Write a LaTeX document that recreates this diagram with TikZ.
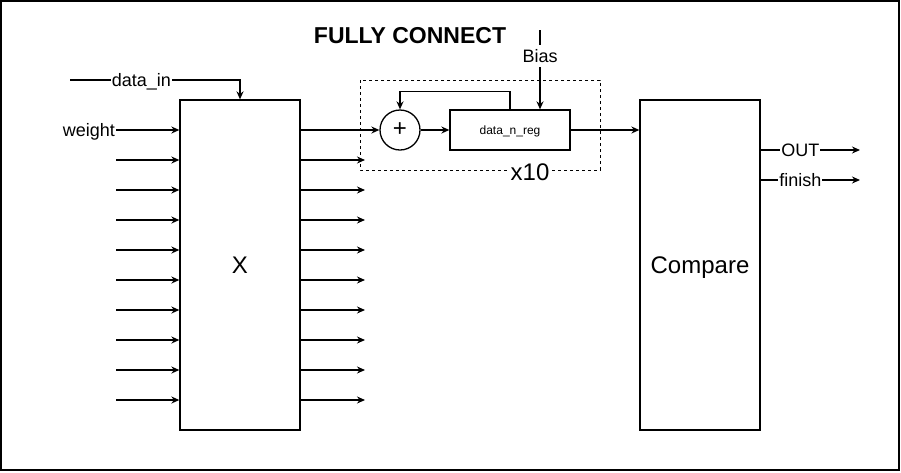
\documentclass[tikz,border=0pt]{standalone}
\usepackage{fontspec}
\setmainfont{Liberation Sans}
\usepackage{tikz}
\usetikzlibrary{arrows.meta}
\tikzset{block/.style={draw, line width=1.3, minimum width=120, minimum height=330, inner sep=0},
 txt/.style={text height=0.9*#1, text depth=0.2*#1},
 lbl/.style={fill=white, inner sep=1, font=\fontsize{18}{20}\selectfont, txt=18},
 wire/.style={line width=1.3, ->},
 >={Stealth[length=8, width=7]},
 }

\begin{document}
\begin{tikzpicture}[x=1pt, y=-1pt]
        \useasboundingbox (0, 0) rectangle (901, 472);
        \draw[line width=1.5] (1, 1) rectangle (899, 470);
        \node[font=\bfseries\fontsize{23}{26}\selectfont, txt=23] (title) at (410, 35) {FULLY CONNECT};

        \node[block, font=\fontsize{24}{28}\selectfont, txt=24] (mul) at (240, 265) {X};
        \node[block, font=\fontsize{24}{28}\selectfont, txt=24] (cmp) at (700, 265) {Compare};
        \node[draw, circle, line width=1.3, minimum size=40, inner sep=0, font=\fontsize{24}{26}\selectfont] (add) at (400, 130) {+};
        \node[draw, line width=1.3, minimum width=120, minimum height=40, font=\fontsize{12}{14}\selectfont, txt=12] (reg) at (510, 130) {data\_n\_reg};
        \draw[dashed, line width=1] (360, 80) rectangle (600, 170);
        \node[lbl, font=\fontsize{24}{26}\selectfont, txt=24] (rep) at (530, 172) {x10};

        % inputs of X
        \node[lbl, anchor=east] (wt) at (116, 130) {weight};
        \draw[wire] (wt) -- (mul.west |- wt);
        \foreach \i in {1, ..., 9} {
            \coordinate (in\i) at (116, 130+30*\i);
            \draw[wire] (in\i) -- (mul.west |- in\i);
        }
        \coordinate (din) at (70, 80);
        \draw[wire] (din) -- node[lbl, pos=0.42] {data\_in} (din -| mul.north) -- (mul.north);

        % outputs of X
        \draw[wire] (mul.east |- add) -- (add);
        \foreach \i in {1, ..., 9} {
            \coordinate (out\i) at (365, 130+30*\i);
            \draw[wire] (mul.east |- out\i) -- (out\i);
        }

        % accumulator
        \draw[wire] (add) -- (reg);
        \draw[wire] (reg.north) -- ++(0, -18) -| (add.north);
        \coordinate (bs) at (540, 30);
        \draw[wire] (bs) -- node[lbl, pos=0.33] {Bias} (bs |- reg.north);
        \draw[wire] (reg) -- (cmp.west |- reg);

        % outputs of Compare
        \coordinate (o1) at (860, 150);
        \coordinate (o2) at (860, 180);
        \draw[wire] (cmp.east |- o1) -- node[lbl, pos=0.4] {OUT} (o1);
        \draw[wire] (cmp.east |- o2) -- node[lbl, pos=0.4] {finish} (o2);
    \end{tikzpicture}
\end{document}
